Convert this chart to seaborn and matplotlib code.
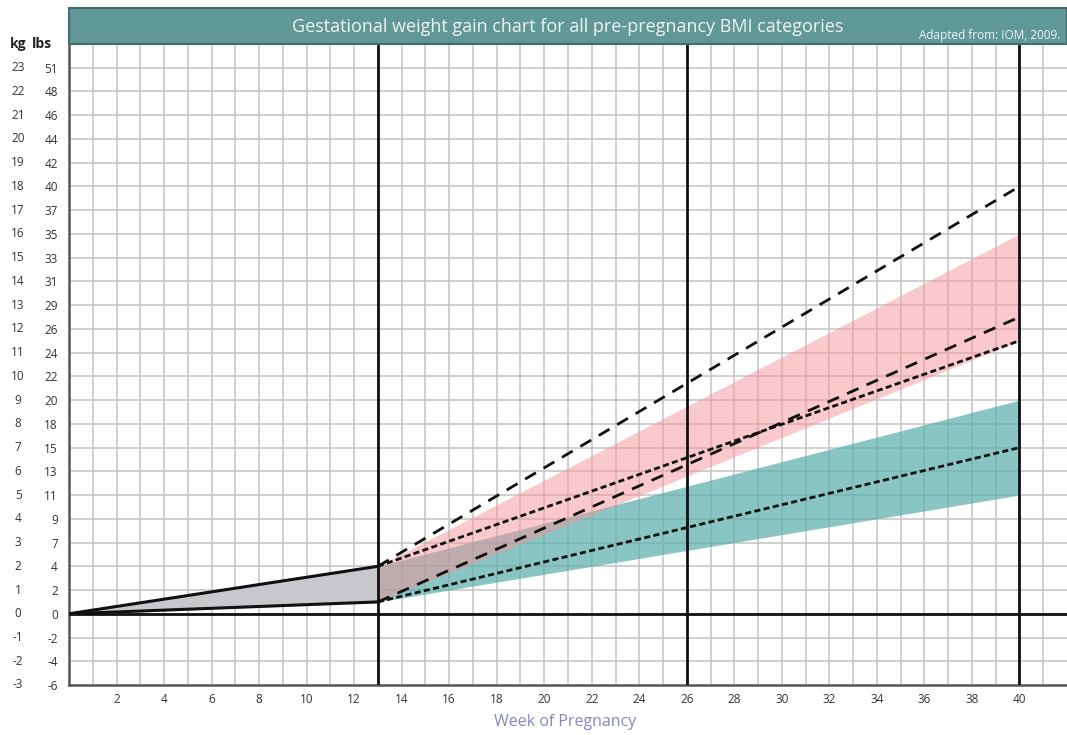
import matplotlib
matplotlib.use("Agg")
import matplotlib.pyplot as plt
import matplotlib.transforms as mtransforms
from matplotlib.patches import Rectangle
import seaborn as sns

# Axis labels
kg_ticks = list(range(-3, 24))
lbs_labels = ["-6", "-4", "-2", "0", "2", "4", "7", "9", "11", "13", "15", "18",
              "20", "22", "24", "26", "29", "31", "33", "35", "37", "40", "42",
              "44", "46", "48", "51"]
week_ticks = list(range(2, 41, 2))

# First trimester (weeks 0-13)
weeks_t1 = [0, 13]
t1_upper = [0, 2]
t1_lower = [0, 0.5]

# Second and third trimester (weeks 13-40), kg gained
weeks_t23 = [13, 40]
normal_lower = [0.5, 11.5]
normal_upper = [2, 16]
obese_lower = [0.5, 5]
obese_upper = [2, 9]
under_lower = [0.5, 12.5]
under_upper = [2, 18]
over_lower = [0.5, 7]
over_upper = [2, 11.5]

sns.set_style("white")
plt.rcParams["font.family"] = ["Open Sans", "DejaVu Sans"]

fig = plt.figure(figsize=(10.67, 7.35), dpi=100)
ax = fig.add_axes([69 / 1067, 1 - 685 / 735, 998 / 1067, 641 / 735])

ax.set_xlim(0, 42)
ax.set_ylim(-3, 24)

# grid
for w in range(1, 42):
    ax.axvline(w, color="#c4c4c4", lw=1.1, zorder=0)
for k in range(-2, 24):
    ax.axhline(k, color="#c4c4c4", lw=1.1, zorder=0)

# bands
ax.fill_between(weeks_t1, t1_lower, t1_upper, color="#c9c7cb", zorder=1)
ax.fill_between(weeks_t23, obese_lower, obese_upper, color="#5aafac",
                alpha=0.72, lw=0, zorder=1)
ax.fill_between(weeks_t23, normal_lower, normal_upper, color="#f5949d",
                alpha=0.5, lw=0, zorder=1)

# trimester lines
for w in [13, 26, 40]:
    ax.axvline(w, color="#111111", lw=2.0, zorder=3)
ax.axhline(0, color="#111111", lw=2.0, zorder=3)

sns.lineplot(x=weeks_t1, y=t1_upper, color="#111111", lw=2.2, ax=ax, zorder=4)
sns.lineplot(x=weeks_t1, y=t1_lower, color="#111111", lw=2.2, ax=ax, zorder=4)

long_dash = (0, (4.5, 3.2))
short_dash = (0, (2.2, 1.2))
sns.lineplot(x=weeks_t23, y=under_upper, color="#111111", lw=2.0,
             linestyle=long_dash, ax=ax, zorder=4)
sns.lineplot(x=weeks_t23, y=under_lower, color="#111111", lw=2.0,
             linestyle=long_dash, ax=ax, zorder=4)
sns.lineplot(x=weeks_t23, y=over_upper, color="#111111", lw=2.0,
             linestyle=short_dash, ax=ax, zorder=4)
sns.lineplot(x=weeks_t23, y=over_lower, color="#111111", lw=2.0,
             linestyle=short_dash, ax=ax, zorder=4)

# spines
for side in ["top", "right"]:
    ax.spines[side].set_visible(False)
for side in ["left", "bottom"]:
    ax.spines[side].set_color("#555555")
    ax.spines[side].set_linewidth(1.8)

# ticks
ax.set_xticks(week_ticks)
ax.set_xticklabels([str(w) for w in week_ticks], fontsize=8.5, color="#333333")
ax.set_yticks(kg_ticks)
ax.set_yticklabels(lbs_labels, fontsize=8.5, color="#333333")
ax.tick_params(axis="both", length=0)
ax.tick_params(axis="y", pad=8)
ax.tick_params(axis="x", pad=6)

trans = mtransforms.blended_transform_factory(ax.transAxes, ax.transData)
for k in kg_ticks:
    ax.text(-0.051, k, str(k), transform=trans, ha="center", va="center",
            fontsize=8.5, color="#333333")
ax.text(-0.051, 24, "kg", transform=trans, ha="center", va="center",
        fontsize=10, fontweight="bold", color="#222222")
ax.text(-0.017, 24, "lbs", transform=trans, ha="right", va="center",
        fontsize=10, fontweight="bold", color="#222222")

# title bar
fig.patches.append(Rectangle((69 / 1067, 1 - 44 / 735), 998 / 1067, 36 / 735,
                             transform=fig.transFigure, facecolor="#5f9896",
                             edgecolor="#3f6e6c", lw=1.5, zorder=5))
fig.text(568 / 1067, 1 - 27 / 735,
         "Gestational weight gain chart for all pre-pregnancy BMI categories",
         ha="center", va="center", fontsize=13, color="#eef4f3", zorder=6)
fig.text(1060 / 1067, 1 - 36 / 735, "Adapted from: IOM, 2009.",
         ha="right", va="center", fontsize=8.5, color="#eef4f3", zorder=6)

fig.text(565 / 1067, 1 - 722 / 735, "Week of Pregnancy", ha="center",
         va="center", fontsize=11.5, color="#8585c2")

fig.savefig("out.png", dpi=100)
